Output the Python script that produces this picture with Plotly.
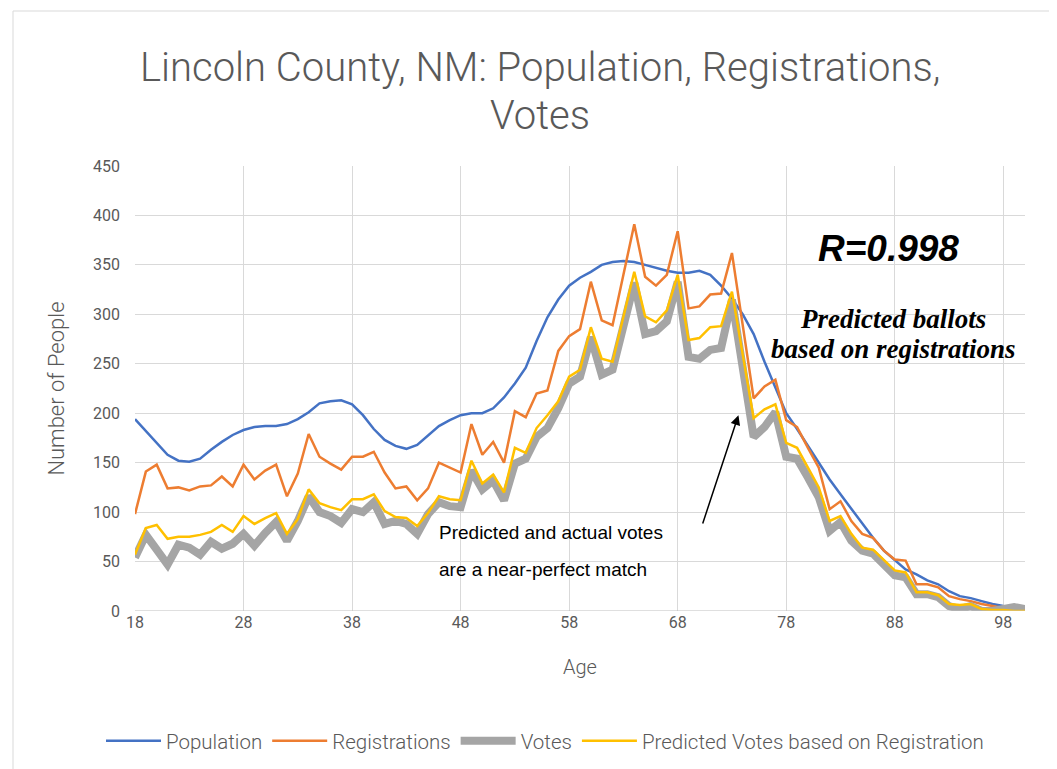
import plotly.graph_objects as go

ages = list(range(18, 101))

population = [194, 182, 170, 158, 152, 151, 154, 163, 171, 178,
              183, 186, 187, 187, 189, 194, 201, 210, 212, 213,
              209, 198, 184, 173, 167, 164, 168, 178, 187, 193,
              198, 200, 200, 205, 216, 230, 246, 273, 297, 315,
              329, 337, 343, 350, 353, 354, 353, 350, 347, 344,
              342, 342, 344, 340, 329, 316, 300, 280, 252, 225,
              200, 184, 167, 149, 133, 118, 103, 88, 74, 61,
              51, 42, 37, 31, 27, 20, 15, 13, 10, 7,
              5, 4, 3]

registrations = [98, 141, 148, 124, 125, 122, 126, 127, 136, 126,
                 148, 133, 142, 148, 116, 139, 179, 156, 149, 143,
                 156, 156, 161, 140, 124, 126, 112, 124, 150, 145,
                 140, 189, 158, 171, 150, 202, 196, 220, 223, 263,
                 278, 285, 333, 294, 289, 340, 391, 338, 329, 340,
                 384, 306, 308, 320, 321, 362, 288, 215, 227, 234,
                 193, 186, 165, 145, 103, 111, 91, 78, 74, 61,
                 52, 51, 27, 27, 24, 15, 12, 10, 7, 5,
                 3, 2, 2]

votes = [54, 77, 62, 47, 67, 64, 57, 70, 63, 68,
         78, 66, 79, 90, 71, 91, 116, 100, 96, 89,
         103, 100, 110, 88, 91, 88, 78, 98, 110, 106,
         105, 142, 123, 132, 112, 149, 154, 176, 185, 205,
         230, 237, 277, 239, 244, 290, 332, 280, 283, 293,
         333, 257, 255, 264, 266, 315, 245, 176, 186, 201,
         156, 154, 135, 115, 81, 90, 71, 61, 58, 46,
         36, 34, 17, 17, 14, 5, 2, 5, 0, 0,
         2, 4, 2]

predicted = [57, 84, 87, 73, 75, 75, 77, 80, 87, 80,
             96, 88, 94, 99, 78, 93, 123, 109, 105, 102,
             113, 113, 118, 101, 95, 94, 86, 99, 116, 113,
             112, 152, 129, 138, 120, 165, 160, 185, 198, 212,
             237, 244, 287, 255, 252, 297, 343, 298, 292, 304,
             340, 274, 276, 287, 288, 323, 258, 195, 204, 209,
             170, 165, 145, 125, 91, 96, 78, 64, 62, 51,
             41, 39, 19, 19, 16, 7, 6, 7, 2, 1,
             1, 0, 0]

x_ticks = [18, 28, 38, 48, 58, 68, 78, 88, 98]
y_ticks = [0, 50, 100, 150, 200, 250, 300, 350, 400, 450]

FONT = "Roboto, Open Sans, sans-serif"
GREY_TXT = "#595959"

L, R, T, B = 127, 40, 158, 166
PW, PH = 1057 - L - R, 769 - T - B


def px(xpix):
    return (xpix - L) / PW


def py(ypix):
    return (769 - B - ypix) / PH


fig = go.Figure()
fig.add_trace(go.Scatter(x=ages, y=population, mode="lines", name="Population",
                         line=dict(color="#4472C4", width=2.5)))
fig.add_trace(go.Scatter(x=ages, y=registrations, mode="lines", name="Registrations",
                         line=dict(color="#ED7D31", width=2.5)))
fig.add_trace(go.Scatter(x=ages, y=votes, mode="lines", name="Votes",
                         line=dict(color="#A5A5A5", width=8)))
fig.add_trace(go.Scatter(x=ages, y=predicted, mode="lines",
                         name="Predicted Votes based on Registration",
                         line=dict(color="#FFC000", width=2.5)))

fig.update_layout(
    width=1057, height=769,
    margin=dict(l=L, r=R, t=T, b=B),
    paper_bgcolor="white", plot_bgcolor="white",
    font=dict(family=FONT, size=16, color=GREY_TXT),
    showlegend=True,
    legend=dict(orientation="h", x=px(537), xanchor="center", y=py(733), yanchor="middle",
                font=dict(size=20.5, color=GREY_TXT, weight=300), itemwidth=55,
                traceorder="normal"),
    xaxis=dict(range=[18, 100], tickvals=x_ticks, showgrid=True, gridcolor="#D9D9D9",
               gridwidth=1, zeroline=False, showline=False, ticks="",
               tickfont=dict(size=16, color=GREY_TXT),
               title=dict(text="Age", font=dict(size=20, color=GREY_TXT, weight=300), standoff=28)),
    yaxis=dict(range=[0, 450], tickvals=y_ticks, showgrid=True, gridcolor="#D9D9D9",
               gridwidth=1, zeroline=False, showline=False, ticks="",
               tickfont=dict(size=16, color=GREY_TXT), ticklabelstandoff=14,
               title=dict(text="Number of People", font=dict(size=22, color=GREY_TXT, weight=300),
                          standoff=22)),
)

annotations = [
    dict(text="Lincoln County, NM: Population, Registrations,", xref="paper", yref="paper",
         x=px(532), y=py(59), showarrow=False,
         font=dict(family=FONT, size=40, color=GREY_TXT, weight=300),
         xanchor="center", yanchor="middle"),
    dict(text="Votes", xref="paper", yref="paper",
         x=px(532), y=py(107), showarrow=False,
         font=dict(family=FONT, size=40, color=GREY_TXT, weight=300),
         xanchor="center", yanchor="middle"),
    dict(text="<b><i>R=0.998</i></b>", xref="paper", yref="paper", x=px(880), y=py(240),
         xanchor="center", yanchor="middle", showarrow=False,
         font=dict(family="Liberation Sans, Arial", size=37, color="black")),
    dict(text="<b><i>Predicted ballots</i></b>", xref="paper", yref="paper", x=px(885), y=py(311),
         xanchor="center", yanchor="middle", showarrow=False,
         font=dict(family="Liberation Serif, DejaVu Serif", size=27, color="black")),
    dict(text="<b><i>based on registrations</i></b>", xref="paper", yref="paper", x=px(885), y=py(341),
         xanchor="center", yanchor="middle", showarrow=False,
         font=dict(family="Liberation Serif, DejaVu Serif", size=27, color="black")),
    dict(text="Predicted and actual votes", xref="paper", yref="paper", x=px(429), y=py(524),
         xanchor="left", yanchor="middle", showarrow=False,
         font=dict(family="Liberation Sans, Arial", size=19, color="black")),
    dict(text="are a near-perfect match", xref="paper", yref="paper", x=px(429), y=py(561),
         xanchor="left", yanchor="middle", showarrow=False,
         font=dict(family="Liberation Sans, Arial", size=19, color="black")),
    dict(text="", x=73.6, y=198, ax=70.26, ay=87, xref="x", yref="y", axref="x", ayref="y",
         showarrow=True, arrowhead=2, arrowsize=1.3, arrowwidth=1.5, arrowcolor="black"),
]
fig.update_layout(annotations=annotations)

fig.add_shape(type="rect", xref="paper", yref="paper",
              x0=px(5), x1=px(1050), y0=py(765), y1=py(3),
              line=dict(color="#D9D9D9", width=1), fillcolor="rgba(0,0,0,0)", layer="below")
fig.add_shape(type="line", xref="paper", yref="y", x0=0, x1=1, y0=0, y1=0,
              line=dict(color="#BFBFBF", width=1))

fig.write_html("out.html")
